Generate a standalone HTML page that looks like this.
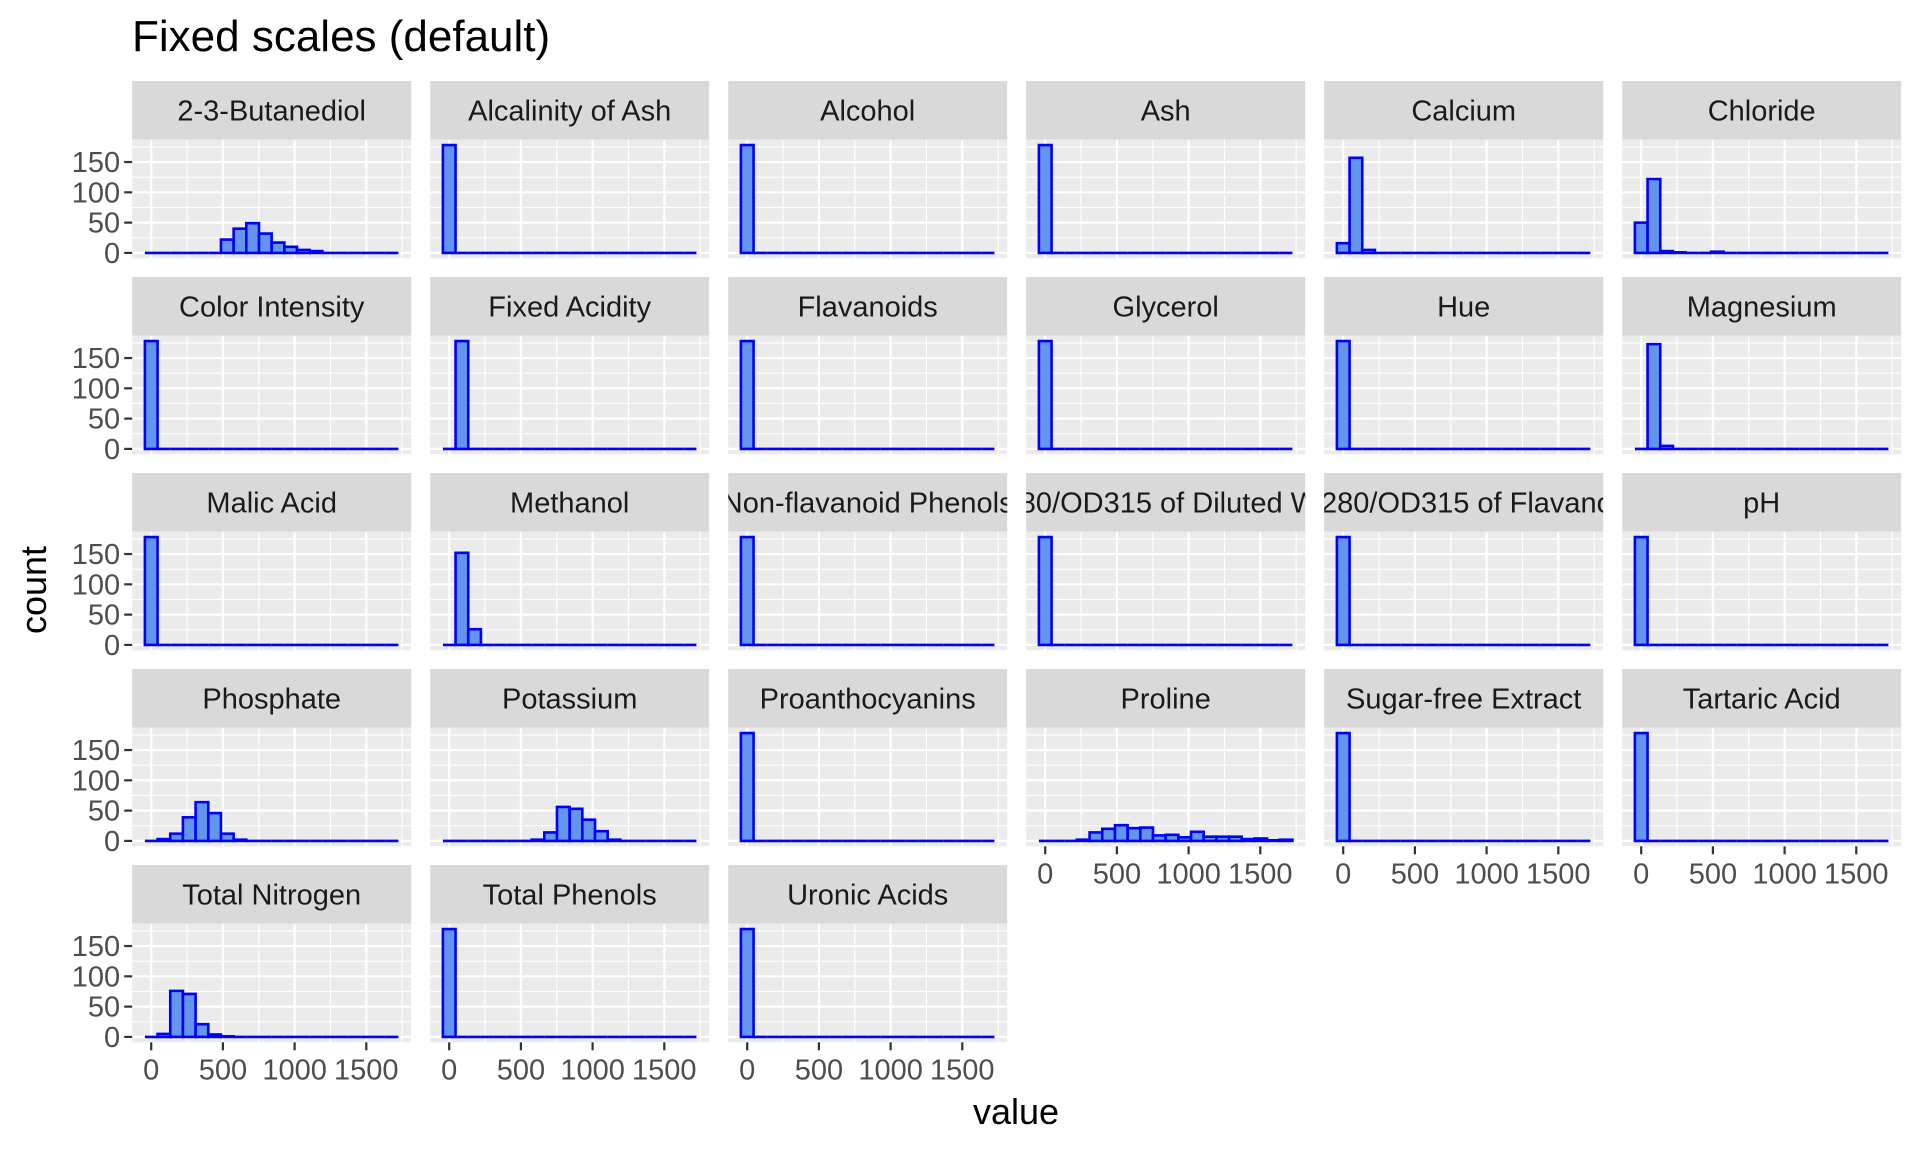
<!DOCTYPE html>
<html><head><meta charset="utf-8"><style>
html,body{margin:0;padding:0;background:#fff;}
svg{display:block;}
text{font-family:"Liberation Sans",Arial,sans-serif;}
</style></head><body>
<svg id="s" width="1920" height="1152" xmlns="http://www.w3.org/2000/svg">
<rect width="1920" height="1152" fill="#fff"/>
<text x="132" y="51" font-size="44" fill="#000">Fixed scales (default)</text>
<text x="1016" y="1124" font-size="36" fill="#000" text-anchor="middle">value</text>
<text transform="translate(46,590) rotate(-90)" font-size="36" fill="#000" text-anchor="middle">count</text>
</svg>
<script>
const S=document.getElementById('s');const NS='http://www.w3.org/2000/svg';
function el(t,a,p){const e=document.createElementNS(NS,t);for(const k in a)e.setAttribute(k,a[k]);(p||S).appendChild(e);return e;}
const panels=[
["2-3-Butanediol",6,[22,40,49,32,17,10,5,3]],
["Alcalinity of Ash",0,[178]],["Alcohol",0,[178]],["Ash",0,[178]],
["Calcium",0,[16,157,5]],["Chloride",0,[50,122,3,1,0,0,2]],
["Color Intensity",0,[178]],["Fixed Acidity",0,[0,178]],["Flavanoids",0,[178]],
["Glycerol",0,[178]],["Hue",0,[178]],["Magnesium",0,[0,173,5]],
["Malic Acid",0,[178]],["Methanol",0,[0,152,26]],["Non-flavanoid Phenols",0,[178]],
["OD280/OD315 of Diluted Wines",0,[178]],["OD280/OD315 of Flavanoids",0,[178]],["pH",0,[178]],
["Phosphate",0,[0,3,12,39,64,46,12,2]],["Potassium",7,[2,14,56,53,35,16,2]],["Proanthocyanins",0,[178]],
["Proline",0,[0,0,0,2,14,20,26,21,22,9,10,6,15,7,7,7,3,4,1,2]],["Sugar-free Extract",0,[178]],["Tartaric Acid",0,[178]],
["Total Nitrogen",0,[0,5,76,71,21,4,1]],["Total Phenols",0,[178]],["Uronic Acids",0,[178]]];
const W=279,PH=118.6,SH=58.7,BW=88.4,SX=0.1434,SY=0.6057;
panels.forEach((p,i)=>{
 const c=i%6,r=Math.floor(i/6);
 const L=132.2+c*298,T=81+r*196,PT=T+SH,PB=PT+PH;
 const X=v=>L+19+v*SX, Y=n=>PB-5.4-n*SY;
 el('rect',{x:L,y:T,width:W,height:SH,fill:'#D9D9D9'});
 const cid='c'+i;const cp=el('clipPath',{id:cid});el('rect',{x:L,y:T,width:W,height:SH},cp);
 const t=el('text',{x:L+W/2,y:T+SH/2+10,'font-size':29,fill:'#1A1A1A','text-anchor':'middle','clip-path':'url(#'+cid+')'});t.textContent=p[0];
 el('rect',{x:L,y:PT,width:W,height:PH,fill:'#EBEBEB'});
 [-250,250,750,1250,1750].forEach(v=>{const x=X(v);if(x>L&&x<L+W)el('line',{x1:x,x2:x,y1:PT,y2:PB,stroke:'#fff','stroke-width':1.1});});
 [25,75,125,175].forEach(n=>el('line',{x1:L,x2:L+W,y1:Y(n),y2:Y(n),stroke:'#fff','stroke-width':1.1}));
 [0,500,1000,1500].forEach(v=>el('line',{x1:X(v),x2:X(v),y1:PT,y2:PB,stroke:'#fff','stroke-width':2.2}));
 [0,50,100,150].forEach(n=>el('line',{x1:L,x2:L+W,y1:Y(n),y2:Y(n),stroke:'#fff','stroke-width':2.2}));
 for(let b=0;b<20;b++){
  const idx=b-p[1];const n=(idx>=0&&idx<p[2].length)?p[2][idx]:0;
  const x0=X(-44+b*BW),x1=x0+BW*SX,y0=Y(0),y1=Y(n);
  el('path',{d:`M${x0},${y0}L${x0},${y1}L${x1},${y1}L${x1},${y0}Z`,fill:'#6495ED',stroke:'#0000FF','stroke-width':2.6});
 }
 if(c===0){
  [0,50,100,150].forEach(n=>{
   el('line',{x1:L-8,x2:L,y1:Y(n),y2:Y(n),stroke:'#333','stroke-width':2.2});
   const tt=el('text',{x:L-12,y:Y(n)+10,'font-size':29,fill:'#4D4D4D','text-anchor':'end'});tt.textContent=n;
  });
 }
 const bottom=(r===4)||(r===3&&c>=3);
 if(bottom){
  [0,500,1000,1500].forEach(v=>{
   el('line',{x1:X(v),x2:X(v),y1:PB,y2:PB+8,stroke:'#333','stroke-width':2.2});
   const tt=el('text',{x:X(v),y:PB+37,'font-size':29,fill:'#4D4D4D','text-anchor':'middle'});tt.textContent=v;
  });
 }
});
</script>
</body></html>
